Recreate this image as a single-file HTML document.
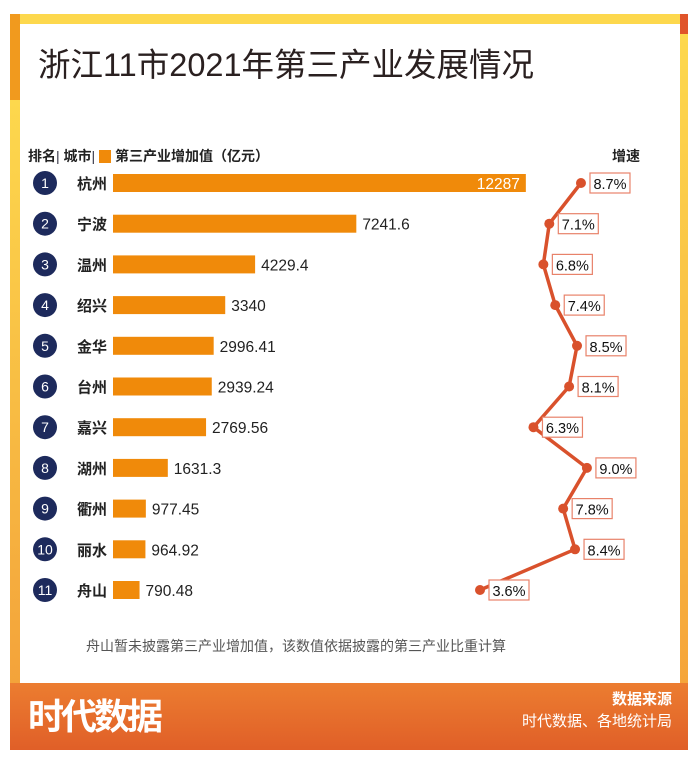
<!DOCTYPE html>
<html><head><meta charset="utf-8"><style>
body{margin:0;width:700px;height:770px;background:#fff;position:relative;font-family:"Liberation Sans","Noto Sans CJK SC",sans-serif;overflow:hidden}
.abs{position:absolute}
</style></head><body>
<div class="abs" style="left:10px;top:14px;width:678px;height:10px;background:#fdd84d"></div>
<div class="abs" style="left:10px;top:14px;width:10px;height:680px;background:linear-gradient(#f19a1e 0,#f19a1e 86px,#fdd84d 86px,#f3a23a 100%)"></div>
<div class="abs" style="left:680px;top:14px;width:8px;height:680px;background:linear-gradient(#e0542a 0,#e0542a 20px,#fdd84d 20px,#f5a43a 100%)"></div>
<div class="abs" style="left:10px;top:683px;width:678px;height:67px;background:linear-gradient(#ec7d30,#e05f28)"></div>
<div class="abs" style="left:38px;top:39px;font-size:32.5px;color:#2a2020">浙江11市2021年第三产业发展情况</div>
<div class="abs" style="left:28px;top:146px;font-size:14px;font-weight:bold;color:#222">排名<span style="color:#334;font-weight:normal">|</span> 城市<span style="color:#334;font-weight:normal">|</span> <span style="display:inline-block;width:12px;height:13px;background:#f08a0a;vertical-align:-2px"></span> 第三产业增加值（亿元）</div>
<div class="abs" style="left:612px;top:146px;font-size:14px;font-weight:bold;color:#222">增速</div>
<div class="abs" style="left:86px;top:636px;font-size:14px;color:#555">舟山暂未披露第三产业增加值，该数值依据披露的第三产业比重计算</div>
<div class="abs" style="left:28px;top:688px;font-size:36px;font-weight:bold;color:#fff;letter-spacing:-3px">时代数据</div>
<div class="abs" style="right:28px;top:688px;font-size:15px;font-weight:bold;color:#fff">数据来源</div>
<div class="abs" style="right:28px;top:710px;font-size:15px;color:#fff">时代数据、各地统计局</div>
<svg id="chart" class="abs" style="left:0;top:0" width="700" height="770"></svg>
<script>
const cities=["杭州","宁波","温州","绍兴","金华","台州","嘉兴","湖州","衢州","丽水","舟山"];
const values=[12287,7241.6,4229.4,3340,2996.41,2939.24,2769.56,1631.3,977.45,964.92,790.48];
const valueLabels=["12287","7241.6","4229.4","3340","2996.41","2939.24","2769.56","1631.3","977.45","964.92","790.48"];
const growth=[8.7,7.1,6.8,7.4,8.5,8.1,6.3,9.0,7.8,8.4,3.6];
const NS="http://www.w3.org/2000/svg";
const svg=document.getElementById('chart');
const y=i=>183+i*40.7;
const xb=v=>113+v*0.0336;
const xg=v=>480+(v-3.6)*19.8;
function mk(t,a,p){const e=document.createElementNS(NS,t);for(const k in a)e.setAttribute(k,a[k]);(p||svg).appendChild(e);return e;}
let pts=growth.map((g,i)=>xg(g)+","+y(i)).join(" ");
const line=mk('polyline',{points:pts,fill:'none',stroke:'#d9512c','stroke-width':3.5});


cities.forEach((c,i)=>{
 const cy=y(i);
 const ci=mk('circle',{cx:45,cy:cy,r:12,fill:'#1d2a5c'});
 
 
 const rt=mk('text',{x:45,y:cy+5,'text-anchor':'middle','font-size':14,fill:'#fff'});rt.textContent=i+1;
 const ct=mk('text',{x:77,y:cy+6,'font-size':15,'font-weight':'bold',fill:'#222'});ct.textContent=c;
 
 
 const b=mk('rect',{x:113,y:cy-9,width:xb(values[i])-113,height:18,fill:'#f08a0a'});
 
 
 const inside=i===0;
 const vt=mk('text',{x:inside?xb(values[i])-6:xb(values[i])+6,y:cy+6,'text-anchor':inside?'end':'start','font-size':15.5,fill:inside?'#fff':'#222'});vt.textContent=valueLabels[i];
 
 
 const gx=xg(growth[i]);
 const d=mk('circle',{cx:gx,cy:cy,r:5,fill:'#d9512c'});
 
 
 const bx=gx+9;
 const box=mk('rect',{x:bx,y:cy-10,width:40,height:20,fill:'#fff',stroke:'#e8826a','stroke-width':1.2});
 
 
 const gt=mk('text',{x:bx+20,y:cy+6,'text-anchor':'middle','font-size':14.5,fill:'#111'});gt.textContent=growth[i].toFixed(1)+"%";
 
 
});
</script>
</body></html>
